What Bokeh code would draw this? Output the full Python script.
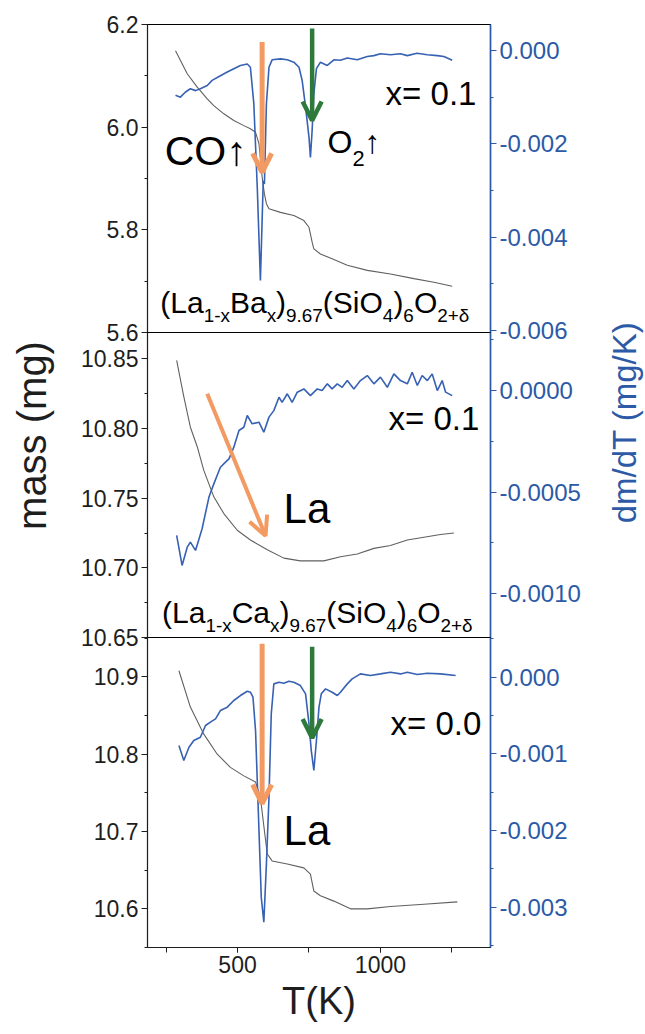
import math
from bokeh.plotting import figure
from bokeh.models import (Range1d, LinearAxis, SingleIntervalTicker, PrintfTickFormatter,
                          Label, Arrow, OpenHead)
from bokeh.layouts import row, column
from bokeh.embed import file_html
from bokeh.resources import INLINE

# ---------------- data ----------------
# Panel 1: (La1-xBax)9.67(SiO4)6O2+d, x = 0.1
ba_dm_T = [283, 300, 318, 335, 353, 370, 394, 411, 440, 464, 487, 510, 534, 545, 557, 569, 580, 586, 590, 594,
           601, 610, 621, 650, 674, 697, 715, 726, 738, 750, 755, 761, 767, 776, 790, 814, 837, 860, 884, 919,
           954, 977, 1000, 1035, 1070, 1094, 1128, 1164, 1199, 1222, 1251]
ba_dm = [-0.00096, -0.00100, -0.00089, -0.00082, -0.00086, -0.00082, -0.00075, -0.00064, -0.00054, -0.00046,
         -0.00039, -0.00032, -0.00029, -0.00036, -0.00114, -0.00293, -0.00493, -0.00364, -0.00279, -0.00286,
         -0.00114, -0.00036, -0.00020, -0.00018, -0.00020, -0.00025, -0.00036, -0.00064, -0.00121, -0.00186,
         -0.00229, -0.00171, -0.00093, -0.00039, -0.00025, -0.00032, -0.00020, -0.00021, -0.00016, -0.00020,
         -0.00013, -0.00011, -0.00007, -0.00009, -0.00007, -0.00011, -0.00006, -0.00009, -0.00011, -0.00013,
         -0.00021]
ba_m_T = [283, 324, 359, 394, 417, 452, 487, 522, 545, 563, 575, 586, 594, 601, 610, 650, 697, 732, 750, 761,
          767, 790, 837, 884, 954, 1035, 1117, 1187, 1251]
ba_m = [6.149, 6.104, 6.078, 6.055, 6.042, 6.026, 6.013, 6.003, 5.997, 5.990, 5.968, 5.903, 5.870, 5.851, 5.841,
        5.834, 5.828, 5.818, 5.805, 5.776, 5.763, 5.753, 5.742, 5.731, 5.721, 5.714, 5.705, 5.698, 5.690]

# Panel 2: (La1-xCax)9.67(SiO4)6O2+d, x = 0.1
ca_dm_T = [287, 306, 324, 335, 353, 376, 400, 417, 440, 458, 470, 487, 505, 522, 534, 551, 575, 592, 610, 627,
           645, 656, 674, 691, 709, 732, 755, 779, 796, 814, 831, 849, 866, 884, 907, 930, 954, 977, 1000, 1024,
           1047, 1070, 1094, 1111, 1129, 1146, 1164, 1181, 1199, 1216, 1228, 1251]
ca_dm = [-0.000714, -0.000862, -0.000772, -0.000747, -0.000788, -0.000681, -0.000525, -0.000460, -0.000378,
         -0.000353, -0.000337, -0.000279, -0.000197, -0.000181, -0.000123, -0.000164, -0.000156, -0.000205,
         -0.000131, -0.000099, -0.000033, -0.000058, -0.000016, -0.000058, -0.000008, 0.000008, -0.000025,
         0.000008, 0.0, 0.000033, 0.000008, 0.000033, 0.000016, 0.000049, 0.000008, 0.000049, 0.000074,
         0.000033, 0.000066, 0.000016, 0.000082, 0.000049, 0.000033, 0.000090, 0.000025, 0.000074, 0.000049,
         0.000082, 0.0, 0.000049, -0.000008, -0.000025]
ca_m_T = [287, 312, 335, 359, 382, 417, 452, 499, 545, 604, 662, 720, 802, 860, 919, 977, 1035, 1094, 1152,
          1210, 1257]
ca_m = [10.849, 10.823, 10.801, 10.787, 10.770, 10.751, 10.739, 10.727, 10.720, 10.713, 10.707, 10.705, 10.705,
        10.708, 10.710, 10.714, 10.716, 10.720, 10.722, 10.724, 10.725]

# Panel 3: x = 0.0 (La)
la_dm_T = [295, 312, 330, 347, 370, 388, 405, 423, 440, 464, 487, 510, 534, 545, 554, 563, 575, 583, 592, 601,
           610, 618, 627, 645, 662, 680, 697, 720, 738, 750, 758, 767, 776, 785, 793, 808, 831, 849, 860, 884,
           901, 930, 965, 1000, 1035, 1070, 1094, 1129, 1164, 1210, 1263]
la_dm = [-0.000891, -0.001087, -0.000913, -0.000826, -0.000783, -0.000630, -0.000587, -0.000543, -0.000435,
         -0.000391, -0.000304, -0.000239, -0.000183, -0.000196, -0.000261, -0.000696, -0.002000, -0.002870,
         -0.003196, -0.002435, -0.001565, -0.000478, -0.000087, -0.000065, -0.000078, -0.000052, -0.000065,
         -0.000109, -0.000217, -0.000609, -0.000957, -0.001217, -0.000826, -0.000391, -0.000217, -0.000152,
         -0.000196, -0.000239, -0.000196, -0.000087, -0.000022, 0.000043, 0.000022, 0.000043, 0.000065,
         0.000043, 0.000065, 0.000035, 0.000052, 0.000043, 0.000022]
la_m_T = [295, 335, 382, 429, 475, 522, 563, 580, 594, 604, 621, 674, 732, 755, 767, 790, 837, 895, 954, 1035,
          1152, 1269]
la_m = [10.908, 10.861, 10.826, 10.800, 10.783, 10.772, 10.764, 10.744, 10.701, 10.671, 10.662, 10.658, 10.653,
        10.645, 10.623, 10.617, 10.610, 10.600, 10.600, 10.603, 10.606, 10.609]

# peak markers: (T_start, mass_start, T_end, mass_end)
ba_co_arrow = (586, 6.166, 586, 5.912)
ba_o2_arrow = (761, 6.192, 761, 6.013)
ca_la_arrow = (394, 10.825, 598, 10.723)
la_la_arrow = (586, 10.943, 586, 10.736)
la_o2_arrow = (761, 10.939, 761, 10.821)

# ---------------- style ----------------
FONT = "Liberation Sans"
BLUE = "#3761b2"
AXBLUE = "#2c5aa6"
MASSC = "#606060"
ORANGE = "#f29a62"
GREEN = "#2e7a3c"
X_RANGE = (185, 1385)
BASE_FIX = 0.36   # lift so that the glyph baseline sits on the anchor

ARIAL_W = {' ': 278, '(': 333, ')': 333, '+': 584, '-': 333, '.': 278, '=': 584, 'B': 667, 'C': 722,
           'K': 667, 'L': 556, 'O': 778, 'S': 667, 'T': 611, 'a': 556, 'i': 222, 'x': 500, 'δ': 556}


def text_w(s, fs):
    return sum(ARIAL_W.get(c, 556) for c in s) / 1000.0 * fs


def rich(p, x, y, parts, size, sub_ratio=0.63, sub_drop=0.3, color="black"):
    off = 0.0
    for txt, kind in parts:
        fs = size if kind == "n" else size * sub_ratio
        yo = BASE_FIX * fs if kind == "n" else -sub_drop * size + BASE_FIX * fs
        p.add_layout(Label(x=x, y=y, x_offset=off, y_offset=yo, text=txt, text_font=FONT,
                           text_font_size=f"{fs:.1f}px", text_color=color,
                           text_baseline="alphabetic", text_align="left"))
        off += text_w(txt, fs)


def style_axis(ax, color, size="23px"):
    ax.axis_line_color = color
    ax.major_tick_line_color = color
    ax.minor_tick_line_color = color
    ax.major_label_text_color = color
    ax.major_label_text_font = FONT
    ax.major_label_text_font_size = size
    ax.major_tick_out = 6
    ax.major_tick_in = 0
    ax.minor_tick_out = 3
    ax.minor_tick_in = 0
    ax.major_label_standoff = 3


def panel(m_T, m, d_T, d, m_rng, d_rng, m_int, d_int, m_fmt, d_fmt, fh, top, bottom, mtop, show_x):
    p = figure(frame_width=343, frame_height=fh, x_range=Range1d(*X_RANGE), y_range=Range1d(*m_rng),
               toolbar_location=None, output_backend="svg", min_border_left=85, min_border_right=110,
               min_border_top=top, min_border_bottom=bottom, x_axis_location="below" if show_x else None,
               border_fill_color=None, background_fill_color=None, outline_line_color="black",
               outline_line_width=1.2, margin=(mtop, 0, 0, 0))
    p.grid.visible = False
    p.extra_y_ranges = {"dm": Range1d(*d_rng)}
    ly = p.yaxis[0]
    ly.ticker = SingleIntervalTicker(interval=m_int, num_minor_ticks=2)
    ly.formatter = PrintfTickFormatter(format=m_fmt)
    style_axis(ly, "#1e1e1e")
    ry = LinearAxis(y_range_name="dm", ticker=SingleIntervalTicker(interval=d_int, num_minor_ticks=2),
                    formatter=PrintfTickFormatter(format=d_fmt))
    style_axis(ry, AXBLUE, "24px")
    ry.axis_line_width = 1.5
    p.add_layout(ry, "right")
    p.line(m_T, m, line_color=MASSC, line_width=1.1)
    p.line(d_T, d, y_range_name="dm", line_color=BLUE, line_width=1.6)
    return p


def arrow(p, spec, color, lw=5):
    p.add_layout(Arrow(end=OpenHead(size=19, line_color=color, line_width=lw),
                       x_start=spec[0], y_start=spec[1], x_end=spec[2], y_end=spec[3],
                       line_color=color, line_width=lw))


FORMULA_BA = [("(La", "n"), ("1-x", "s"), ("Ba", "n"), ("x", "s"), (")", "n"), ("9.67", "s"),
              ("(SiO", "n"), ("4", "s"), (")", "n"), ("6", "s"), ("O", "n"), ("2+δ", "s")]
FORMULA_CA = [("(La", "n"), ("1-x", "s"), ("Ca", "n"), ("x", "s"), (")", "n"), ("9.67", "s"),
              ("(SiO", "n"), ("4", "s"), (")", "n"), ("6", "s"), ("O", "n"), ("2+δ", "s")]

# panel 1
p1 = panel(ba_m_T, ba_m, ba_dm_T, ba_dm, (5.6, 6.2), (-0.006043, 0.000557), 0.2, 0.002, "%.1f", "%.3f",
           308, 24, 16, 0, False)
arrow(p1, ba_co_arrow, ORANGE)
arrow(p1, ba_o2_arrow, GREEN, 4.5)
rich(p1, 1018, 6.042, [("x= 0.1", "n")], 33)
rich(p1, 245, 5.925, [("CO↑", "n")], 41)
rich(p1, 815, 5.949, [("O", "n"), ("2", "s"), ("↑", "n")], 32, sub_ratio=0.68, sub_drop=0.42)
rich(p1, 230, 5.637, FORMULA_BA, 30)

# panel 2
p2 = panel(ca_m_T, ca_m, ca_dm_T, ca_dm, (10.65, 10.869), (-0.001217, 0.000286), 0.05, 0.0005, "%.2f", "%.4f",
           305, 0, 16, -16, False)
arrow(p2, ca_la_arrow, ORANGE, 4)
rich(p2, 1028, 10.799, [("x= 0.1", "n")], 33)
rich(p2, 661, 10.732, [("La", "n")], 42)
rich(p2, 236, 10.660, FORMULA_CA, 30)

# panel 3
p3 = panel(la_m_T, la_m, la_dm_T, la_dm, (10.550, 10.951), (-0.003526, 0.000518), 0.1, 0.001, "%.1f", "%.3f",
           310, 0, 87, -16, True)
arrow(p3, la_la_arrow, ORANGE)
arrow(p3, la_o2_arrow, GREEN, 4.5)
rich(p3, 1035, 10.824, [("x= 0.0", "n")], 33)
rich(p3, 661, 10.682, [("La", "n")], 42)
xa = p3.xaxis[0]
xa.ticker = SingleIntervalTicker(interval=500, num_minor_ticks=2)
style_axis(xa, "#1e1e1e")
xa.major_tick_out = 5
xa.minor_tick_out = 5
xa.axis_label = "T(K)"
xa.axis_label_text_font = FONT
xa.axis_label_text_font_size = "38px"
xa.axis_label_text_font_style = "normal"
xa.axis_label_text_color = "#1e1e1e"
xa.axis_label_standoff = 4

# side title figures
lf = figure(width=62, height=1034, x_range=Range1d(0, 62), y_range=Range1d(0, 1034), toolbar_location=None,
            output_backend="svg", min_border=0, outline_line_color=None, x_axis_location=None,
            y_axis_location=None, border_fill_color=None, background_fill_color=None)
lf.grid.visible = False
lf.add_layout(Label(x=31, y=1034 - 435, text="mass (mg)", angle=math.pi / 2, text_align="center",
                    text_baseline="middle", text_font=FONT, text_font_size="40px", text_color="#1e1e1e"))

rf = figure(width=45, height=1034, x_range=Range1d(0, 45), y_range=Range1d(0, 1034), toolbar_location=None,
            output_backend="svg", min_border=0, outline_line_color=None, x_axis_location=None,
            y_axis_location=None, border_fill_color=None, background_fill_color=None)
rf.grid.visible = False
rf.add_layout(Label(x=24, y=1034 - 422, text="dm/dT (mg/K)", angle=math.pi / 2, text_align="center",
                    text_baseline="middle", text_font=FONT, text_font_size="33px", text_color=AXBLUE))

layout = row(lf, column(p1, p2, p3), rf)
open("out.html", "w").write(file_html(layout, INLINE, title="TGA"))
